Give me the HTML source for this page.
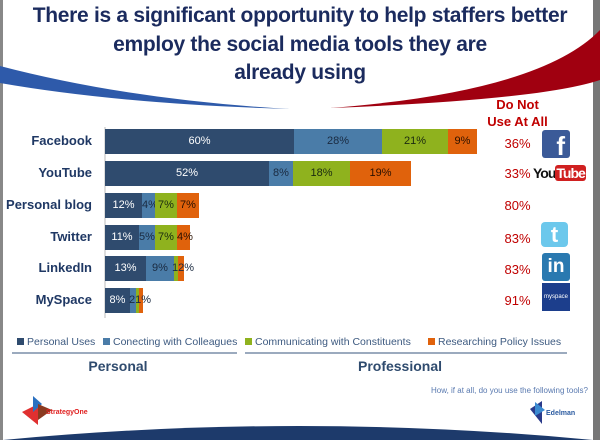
<!DOCTYPE html>
<html><head><meta charset="utf-8"><style>
body{margin:0;width:600px;height:440px;overflow:hidden;background:#fff;font-family:"Liberation Sans",sans-serif;position:relative}
.a{position:absolute}
.t{position:absolute;left:0;width:600px;text-align:center;color:#1b2b5e;font-weight:bold;font-size:21px;letter-spacing:-0.3px}
.lab{position:absolute;right:508px;font-weight:bold;font-size:13px;color:#1f3864;text-align:right;white-space:nowrap}
.bar{position:absolute;height:25px;color:#fff;font-size:11px;line-height:25px;text-align:center;overflow:visible;white-space:nowrap}
.p{background:#2f4b6e}.c{background:#4a7ca8;color:#1a2a40}.g{background:#8fb21e;color:#1a2a10}.o{background:#e0620c;color:#2a1000}
.pct{position:absolute;left:495px;width:45px;text-align:center;color:#c00000;font-size:13px}
.lg{position:absolute;top:336px;font-size:10.5px;color:#3d5a80;white-space:nowrap}
.lg i{display:inline-block;width:7px;height:7px;margin-right:3px}
</style></head><body>
<div class="a" style="left:0;top:0;width:3px;height:440px;background:#888"></div>
<div class="a" style="left:593px;top:0;width:7px;height:440px;background:#777"></div>
<svg class="a" style="left:0;top:0" width="600" height="440">
<path d="M0 66 Q130 100 290 109 Q120 104 0 83Z" fill="#2e5aaa"/>
<path d="M600 30 Q540 92 330 108 Q540 100 600 80Z" fill="#a00010"/>
<path d="M3 440 Q300 412 593 440Z" fill="#1d3a6b"/>
<line x1="105" y1="127" x2="105" y2="318" stroke="#bbb"/>
<line x1="12" y1="353" x2="237" y2="353" stroke="#7a8ea8" stroke-width="1.5"/>
<line x1="245" y1="353" x2="567" y2="353" stroke="#7a8ea8" stroke-width="1.5"/>
<polygon points="22,412 38,404 38,425" fill="#e03030"/><polygon points="33,396 42,404 33,412" fill="#2a70c0"/><polygon points="38,404 52,410 38,420" fill="#8a3a20"/>
<polygon points="530,409 542,401 542,424" fill="#2a3a8a"/><polygon points="535,402 545,410 535,416" fill="#3a8ad0"/>
</svg>
<div class="t" style="top:4px">There is a significant opportunity to help staffers better</div>
<div class="t" style="top:33px">employ the social media tools they are</div>
<div class="t" style="top:61px">already using</div>
<div class="a" style="left:480px;top:96px;width:75px;text-align:center;color:#c00000;font-weight:bold;font-size:13px;line-height:17px">Do Not<br>Use At All</div>

<div class="lab" style="top:133px">Facebook</div>
<div class="lab" style="top:165px">YouTube</div>
<div class="lab" style="top:197px">Personal blog</div>
<div class="lab" style="top:229px">Twitter</div>
<div class="lab" style="top:260px">LinkedIn</div>
<div class="lab" style="top:292px">MySpace</div>

<div class="bar p" style="left:105px;top:129px;width:189px">60%</div>
<div class="bar c" style="left:294px;top:129px;width:88px">28%</div>
<div class="bar g" style="left:382px;top:129px;width:66px">21%</div>
<div class="bar o" style="left:448px;top:129px;width:29px">9%</div>

<div class="bar p" style="left:105px;top:161px;width:164px">52%</div>
<div class="bar c" style="left:269px;top:161px;width:24px">8%</div>
<div class="bar g" style="left:293px;top:161px;width:57px">18%</div>
<div class="bar o" style="left:350px;top:161px;width:61px">19%</div>

<div class="bar p" style="left:105px;top:193px;width:37px">12%</div>
<div class="bar c" style="left:142px;top:193px;width:13px">4%</div>
<div class="bar g" style="left:155px;top:193px;width:22px">7%</div>
<div class="bar o" style="left:177px;top:193px;width:22px">7%</div>

<div class="bar p" style="left:105px;top:225px;width:34px">11%</div>
<div class="bar c" style="left:139px;top:225px;width:16px">5%</div>
<div class="bar g" style="left:155px;top:225px;width:22px">7%</div>
<div class="bar o" style="left:177px;top:225px;width:13px">4%</div>

<div class="bar p" style="left:105px;top:256px;width:41px">13%</div>
<div class="bar c" style="left:146px;top:256px;width:28px">9%</div>
<div class="bar g" style="left:174px;top:256px;width:4px"></div>
<div class="bar o" style="left:178px;top:256px;width:6px"></div>
<div class="a" style="left:172px;top:256px;line-height:25px;font-size:11px;color:#1a2a40">12%</div>

<div class="bar p" style="left:105px;top:288px;width:25px">8%</div>
<div class="bar c" style="left:130px;top:288px;width:6px"></div>
<div class="bar g" style="left:136px;top:288px;width:3px"></div>
<div class="bar o" style="left:139px;top:288px;width:4px"></div>
<div class="a" style="left:129px;top:288px;line-height:25px;font-size:11px;color:#1a2a40">21%</div>

<div class="pct" style="top:136px">36%</div>
<div class="pct" style="top:166px">33%</div>
<div class="pct" style="top:198px">80%</div>
<div class="pct" style="top:231px">83%</div>
<div class="pct" style="top:262px">83%</div>
<div class="pct" style="top:293px">91%</div>

<div class="a" style="left:542px;top:130px;width:28px;height:28px;background:#3b5a98;border-radius:3px;color:#fff;font-weight:bold;font-size:26px;line-height:32px;text-align:right;overflow:hidden"><span style="margin-right:5px">f</span></div>
<div class="a" style="left:533px;top:165px;font-size:14px;font-weight:bold;color:#111;letter-spacing:-1px">You<span style="background:#d02020;color:#fff;border-radius:3px;padding:0 1px">Tube</span></div>
<div class="a" style="left:541px;top:222px;width:27px;height:25px;background:#6cc8ec;border-radius:4px;color:#fff;font-weight:bold;font-size:22px;line-height:26px;text-align:center">t</div>
<div class="a" style="left:542px;top:253px;width:28px;height:28px;background:#2a79b0;border-radius:3px;color:#fff;font-weight:bold;font-size:19px;line-height:28px;text-align:center">in</div>
<div class="a" style="left:542px;top:283px;width:28px;height:28px;background:#1c3e8c;color:#fff;font-size:6px;line-height:28px;text-align:center">myspace</div>

<div class="lg" style="left:17px"><i style="background:#2f4b6e"></i>Personal Uses</div>
<div class="lg" style="left:103px"><i style="background:#4a7ca8"></i>Conecting with Colleagues</div>
<div class="lg" style="left:245px"><i style="background:#8fb21e"></i>Communicating with Constituents</div>
<div class="lg" style="left:428px"><i style="background:#e0620c"></i>Researching Policy Issues</div>

<div class="a" style="left:60px;top:358px;width:116px;text-align:center;font-weight:bold;font-size:14px;color:#2f4b6e">Personal</div>
<div class="a" style="left:320px;top:358px;width:160px;text-align:center;font-weight:bold;font-size:14px;color:#2f4b6e">Professional</div>
<div class="a" style="right:12px;top:386px;font-size:8px;color:#5a7ab0">How, if at all, do you use the following tools?</div>
<div class="a" style="left:46px;top:409px;font-size:7px;font-weight:bold;color:#e02020">StrategyOne</div>
<div class="a" style="left:546px;top:410px;font-size:7px;font-weight:bold;color:#2a5aa0">Edelman</div>
</body></html>
